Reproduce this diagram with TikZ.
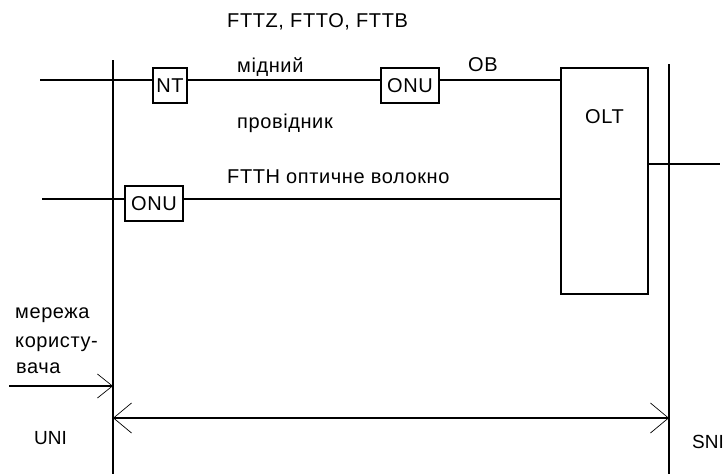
\documentclass[tikz,border=0pt]{standalone}
\usepackage{fontspec}
\setmainfont{Liberation Sans}[LetterSpace=3]
\newfontfamily\vuzfamily{Liberation Sans}
\usetikzlibrary{calc,arrows.meta,positioning}
\newcommand\shrift{\fontsize{20}{23}\selectfont}
\newcommand\vuzshrift{\vuzfamily\fontsize{19}{22}\selectfont}
\tikzset{
  lin/.style={line width=1.1pt},
  blok/.style={draw,line width=1.1pt,inner sep=0pt,font=\shrift},
  napys/.style={inner sep=0pt,font=\shrift,anchor=base west},
  intf/.style={inner sep=0pt,font=\vuzshrift,anchor=base west},
  strl/.style={line width=1.1pt,-{Straight Barb[length=15pt,width=24pt,line width=0.7pt]}},
  dvstrl/.style={line width=1.1pt,{Straight Barb[length=18pt,width=30pt,line width=0.7pt]}-{Straight Barb[length=18pt,width=30pt,line width=0.7pt]}}
}

\begin{document}
\begin{tikzpicture}[x=1pt,y=-1pt]
\useasboundingbox (0,0) rectangle (724,474);
\coordinate (uniT) at (113,60);
\coordinate (uniB) at (113,474);
\coordinate (sniT) at (669,64);
\coordinate (sniB) at (669,474);
\coordinate (inA) at (40,80);
\coordinate (inB) at (42,199);
\coordinate (outS) at (720,164);
\coordinate (usr) at (9,386);
\coordinate (dL) at (113,418);
\coordinate (dR) at (669,418);
\node[blok,minimum width=34pt,minimum height=35pt] (nt) at (170,85.5) {NT};
\node[blok,minimum width=58pt,minimum height=35pt] (onuA) at (410,85.5) {ONU};
\node[blok,minimum width=58pt,minimum height=35pt] (onuB) at (154,203.5) {ONU};
\node[blok,minimum width=87pt,minimum height=226pt] (olt) at (604.5,181) {};
\node[napys,anchor=base] (oltT) at ([yshift=-56pt]olt.north) {OLT};
\draw[lin] (uniT) -- (uniB);
\draw[lin] (sniT) -- (sniB);
\draw[lin] (inA) -- (nt.west |- inA);
\draw[lin] (nt.east |- inA) -- (onuA.west |- inA);
\draw[lin] (onuA.east |- inA) -- (olt.west |- inA);
\draw[lin] (inB) -- (onuB.west |- inB);
\draw[lin] (onuB.east |- inB) -- (olt.west |- inB);
\draw[lin] (olt.east |- outS) -- (outS);
\draw[strl] (usr) -- (usr -| uniT);
\draw[dvstrl] (dL) -- (dR);
\node[napys] (fttx) at (227,27) {FTTZ, FTTO, FTTB};
\node[napys] (mid) at (237,72) {мідний};
\node[napys] (prov) at (237,128) {провідник};
\node[napys] (ftth) at (227,183) {FTTH оптичне волокно};
\node[napys] (ov) at (468,71) {ОВ};
\node[napys] (mer1) at (15,318) {мережа};
\node[napys] (mer2) at (15,347) {користу-};
\node[napys] (mer3) at (16,373) {вача};
\node[intf] (uni) at (34,444) {UNI};
\node[intf,anchor=base east] (sni) at (724,448) {SNI};
\end{tikzpicture}
\end{document}
